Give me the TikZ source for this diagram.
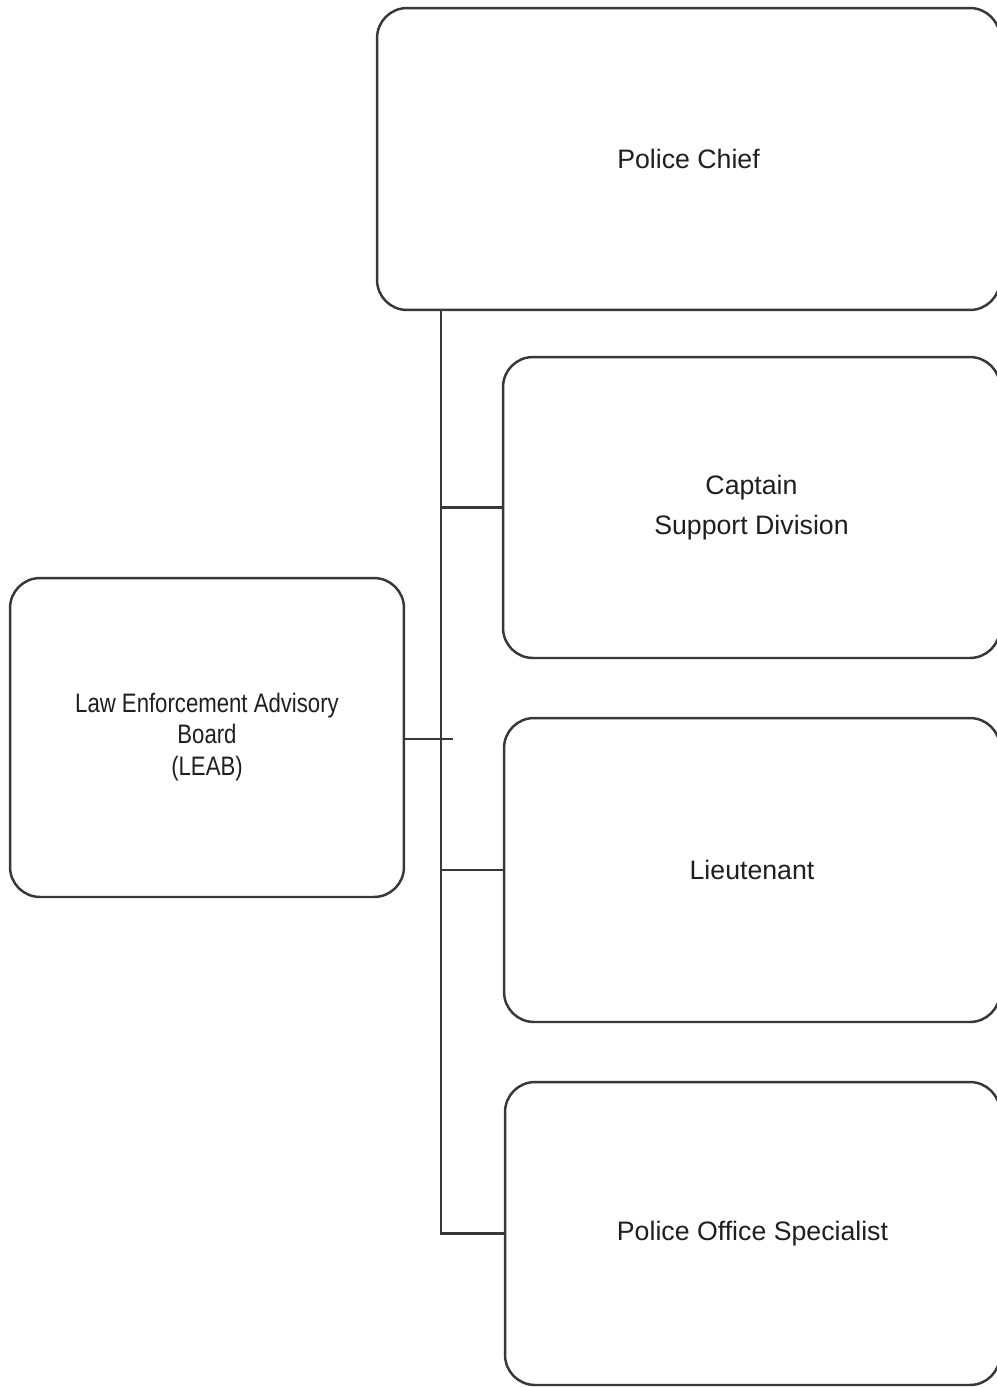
\documentclass[tikz,border=0pt]{standalone}
\usepackage{fontspec}
\setmainfont{Liberation Sans}
\newcommand{\narrowlines}[1]{\scalebox{0.83}[1]{\begin{tabular}{@{}c@{}}#1\end{tabular}}}
\begin{document}
\begin{tikzpicture}[x=0.02cm,y=-0.02cm,
  orgbox/.style={draw=black!78, line width=1.4pt, rounded corners=0.6cm, align=center,
    inner sep=0pt, text=black!88,
    font=\fontsize{15.2}{22.7}\selectfont},
  smallbox/.style={orgbox, font=\fontsize{15.2}{18.1}\selectfont},
  link/.style={draw=black!78, line width=1.4pt}]
\clip (0,0) rectangle (997,1387);
\fill[white] (0,0) rectangle (997,1387);

% boxes (right edges run past the page edge)
\node[orgbox, minimum width=12.46cm, minimum height=6.04cm] (chief) at (688.5,159) {Police Chief};
\node[orgbox, minimum width=9.94cm, minimum height=6.02cm] (capt) at (751.5,507.5) {Captain\\Support Division};
\node[orgbox, minimum width=9.92cm, minimum height=6.08cm] (lieut) at (752,870) {Lieutenant};
\node[orgbox, minimum width=9.90cm, minimum height=6.06cm] (spec) at (752.5,1233.5) {Police Office Specialist};
\node[smallbox, minimum width=7.88cm, minimum height=6.38cm] (leab) at (207,737.5)
  {\narrowlines{Law Enforcement Advisory\\Board\\(LEAB)}};

% trunk line and branches
\coordinate (tx) at (441,0);
\coordinate (leabtip) at (453,739);
\draw[link] (chief.south -| tx) -- (spec.west -| tx) -- (spec.west);
\draw[link] (capt.west -| tx) -- (capt.west);
\draw[link] (lieut.west -| tx) -- (lieut.west);
\draw[link] (leab.east |- leabtip) -- (leabtip);
\end{tikzpicture}
\end{document}
